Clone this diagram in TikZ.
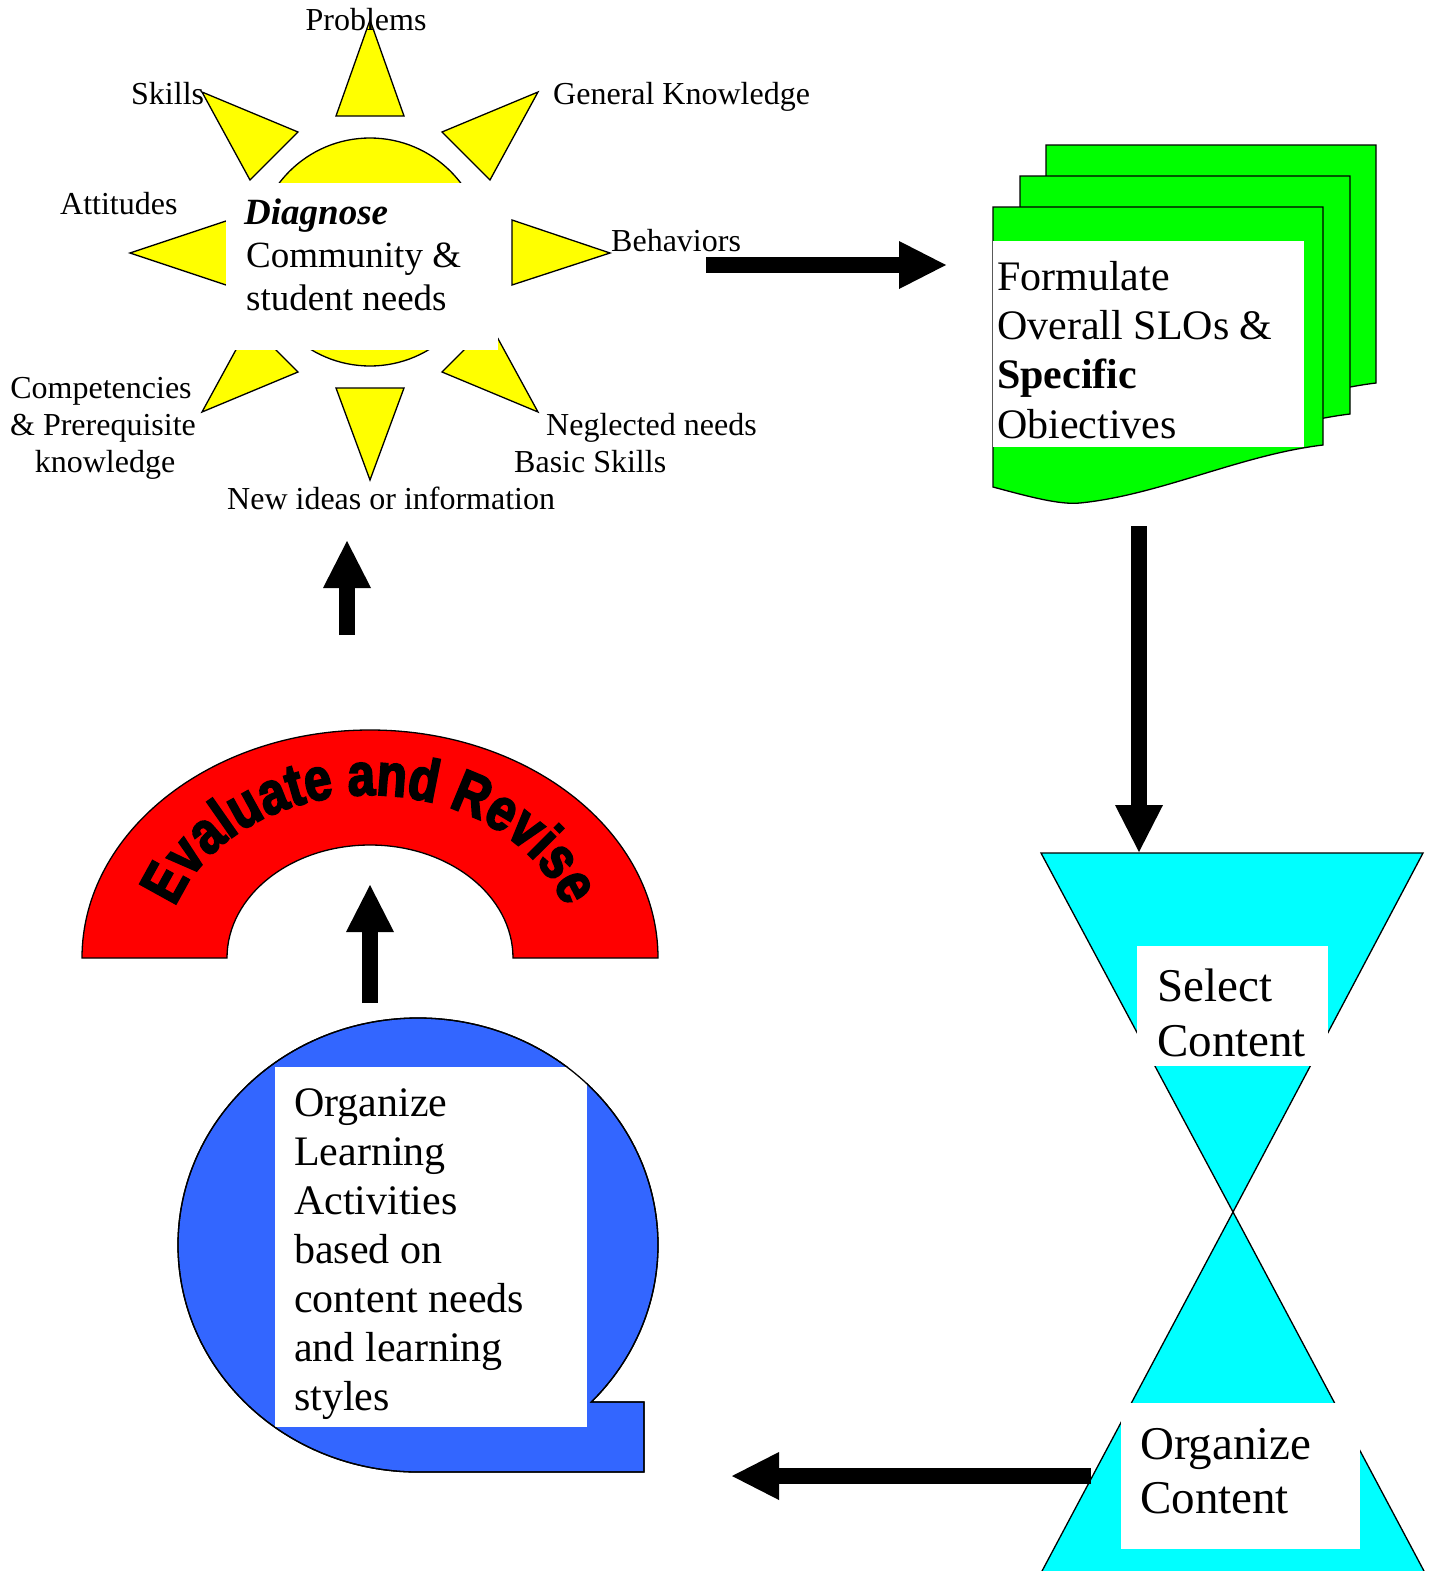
\documentclass[tikz,border=0pt]{standalone}
\usepackage{fontspec}
\setmainfont{Liberation Serif}
\newfontfamily\evalfont[FakeStretch=0.82,FakeBold=3]{Liberation Sans}
\usetikzlibrary{arrows.meta,decorations.text}
\definecolor{sunyellow}{RGB}{255,255,0}
\definecolor{docgreen}{RGB}{0,255,0}
\definecolor{hgcyan}{RGB}{0,255,255}
\definecolor{archred}{RGB}{255,0,0}
\definecolor{bubbleblue}{RGB}{51,102,255}
\begin{document}
\begin{tikzpicture}[x=1pt,y=-1pt,
  outl/.style={draw=black,line width=1.3pt,line join=miter},
  ray/.style={outl,fill=sunyellow},
  whitebox/.style={fill=white,draw=none},
  blockarrow/.style={draw=black,line width=16pt,-{Triangle[length=47pt,width=48pt,line width=0pt]}},
  lbl/.style={inner sep=0pt,font=\fontsize{32}{37}\selectfont},
  midtxt/.style={inner sep=0pt,font=\fontsize{37}{43}\selectfont},
  bigtxt/.style={inner sep=0pt,font=\fontsize{42}{49}\selectfont},
  hugetxt/.style={inner sep=0pt,font=\fontsize{47}{55}\selectfont}]
\clip (0,0) rectangle (1431,1571);
\fill[white] (0,0) rectangle (1431,1571);

% ---------------- Sun (Diagnose) ----------------
\draw[ray] (336,116) -- (404,116) -- (370,20) -- cycle;
\draw[ray] (298,132) -- (250,180) -- (202,92) -- cycle;
\draw[ray] (442,132) -- (490,180) -- (538,92) -- cycle;
\draw[ray] (130,253) -- (232,219) -- (232,287) -- cycle;
\draw[ray] (512,220) -- (512,285) -- (610,253) -- cycle;
\draw[ray] (336,388) -- (404,388) -- (370,480) -- cycle;
\draw[ray] (298,372) -- (250,324) -- (202,412) -- cycle;
\draw[ray] (442,372) -- (490,324) -- (538,412) -- cycle;
\draw[outl,fill=sunyellow] (370,252) circle[radius=114pt];
\fill[whitebox] (226,183) rectangle (498,350);
\node[midtxt,anchor=base west] (diag1) at (244,224) {\textbf{\textit{Diagnose}}};
\node[midtxt,anchor=base west] (diag2) at (246,267) {Community \&};
\node[midtxt,anchor=base west] (diag3) at (246,310) {student needs};

\node[lbl,anchor=base] (problems) at (366,31) {Problems};
\node[lbl,anchor=base west] (skills) at (131,104) {Skills};
\node[lbl,anchor=base west] (genknow) at (553,104) {General Knowledge};
\node[lbl,anchor=base west] (attitudes) at (60,214) {Attitudes};
\node[lbl,anchor=base west] (behaviors) at (611,251) {Behaviors};
\node[lbl,anchor=base] (comp1) at (101,398) {Competencies};
\node[lbl,anchor=base] (comp2) at (103,435) {\& Prerequisite};
\node[lbl,anchor=base] (comp3) at (105,472) {knowledge};
\node[lbl,anchor=base west] (neglected) at (546,435) {Neglected needs};
\node[lbl,anchor=base west] (basic) at (514,472) {Basic Skills};
\node[lbl,anchor=base west] (newideas) at (227,509) {New ideas or information};

% ---------------- Document stack (Formulate) ----------------
\foreach \dx/\dy in {53/-62,27/-31,0/0}{
  \draw[outl,fill=docgreen,shift={(\dx,\dy)}]
    (993,207) -- (1323,207) -- (1323,445)
    .. controls (1240,455) and (1160,495) .. (1080,503)
    .. controls (1060,505) and (1030,497) .. (993,487) -- cycle;
}
\fill[whitebox] (993,241) rectangle (1304,447);
\node[bigtxt,anchor=base west] (form1) at (997,290) {Formulate};
\node[bigtxt,anchor=base west] (form2) at (997,339) {Overall SLOs \&};
\node[bigtxt,anchor=base west] (form3) at (997,388) {\textbf{Specific}};
\node[bigtxt,anchor=base west] (form4) at (997,438) {Obiectives};

% ---------------- Hourglass (Select / Organize Content) ----------------
\draw[outl,fill=hgcyan] (1041,853) -- (1423,853) -- (1233,1212) -- cycle;
\draw[outl,fill=hgcyan] (1233,1212) -- (1439.4,1600) -- (1026.6,1600) -- cycle;
\fill[whitebox] (1137,946) rectangle (1328,1066);
\fill[whitebox] (1121,1403) rectangle (1360,1549);
\node[hugetxt,anchor=base west] (sel1) at (1157,1001) {Select};
\node[hugetxt,anchor=base west] (sel2) at (1157,1056) {Content};
\node[hugetxt,anchor=base west] (org1) at (1140,1459) {Organize};
\node[hugetxt,anchor=base west] (org2) at (1140,1513) {Content};

% ---------------- Speech bubble (Organize Learning Activities) ----------------
\draw[outl,fill=bubbleblue] (418,1472)
  arc[start angle=270,end angle=-43.75,x radius=240pt,y radius=227pt]
  -- (644,1402) -- (644,1472) -- cycle;
\fill[whitebox] (275,1067) rectangle (587,1427);
\draw[outl] (418,1472)
  arc[start angle=270,end angle=-43.75,x radius=240pt,y radius=227pt]
  -- (644,1402) -- (644,1472) -- cycle;
\node[bigtxt,anchor=base west] (act1) at (294,1116) {Organize};
\node[bigtxt,anchor=base west] (act2) at (294,1165) {Learning};
\node[bigtxt,anchor=base west] (act3) at (294,1214) {Activities};
\node[bigtxt,anchor=base west] (act4) at (294,1263) {based on};
\node[bigtxt,anchor=base west] (act5) at (294,1312) {content needs};
\node[bigtxt,anchor=base west] (act6) at (294,1361) {and learning};
\node[bigtxt,anchor=base west] (act7) at (294,1410) {styles};

% ---------------- Arch (Evaluate and Revise) ----------------
\draw[outl,fill=archred] (82,958)
  arc[start angle=180,end angle=0,x radius=288pt,y radius=228pt]
  -- (513,958)
  arc[start angle=0,end angle=180,x radius=143pt,y radius=113pt]
  -- cycle;
\path[decorate,decoration={text along path,text align=center,
  text={|\evalfont\bfseries\fontsize{60}{64}\selectfont|Evaluate and Revise}}]
  (165,958) arc[start angle=180,end angle=0,x radius=205pt,y radius=163pt];

% ---------------- Arrows ----------------
\coordinate (sunOut) at (706,265);
\coordinate (docIn) at (946,265);
\coordinate (docOut) at (1139,526);
\coordinate (selIn) at (1139,852);
\coordinate (orgOut) at (1091,1476);
\coordinate (bubIn) at (732,1476);
\coordinate (bubOut) at (370,1003);
\coordinate (archIn) at (370,885);
\coordinate (archOut) at (347,635);
\coordinate (sunIn) at (347,541);
\draw[blockarrow] (sunOut) -- (docIn);
\draw[blockarrow] (docOut) -- (selIn);
\draw[blockarrow] (orgOut) -- (bubIn);
\draw[blockarrow] (bubOut) -- (archIn);
\draw[blockarrow] (archOut) -- (sunIn);
\end{tikzpicture}
\end{document}
